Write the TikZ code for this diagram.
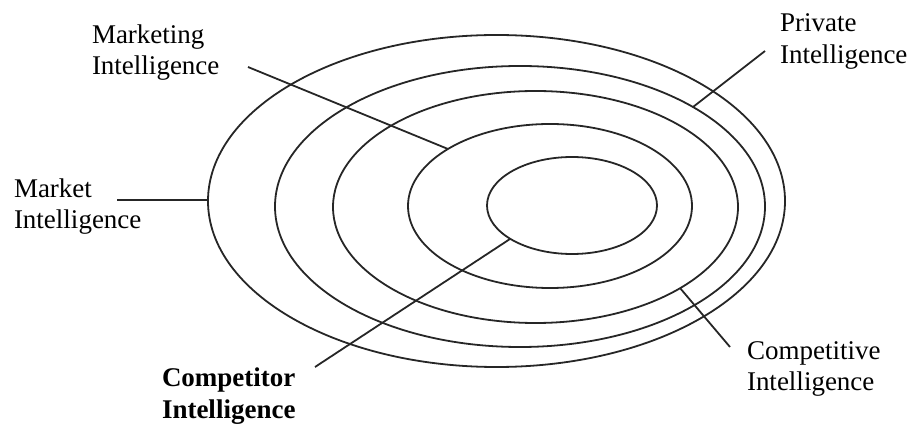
\documentclass[tikz,border=0pt]{standalone}
\usepackage{fontspec}
\setmainfont{Liberation Serif}
\begin{document}
\begin{tikzpicture}[x=1pt,y=-1pt,
  ring/.style={draw=black!85,line width=1.8pt},
  leader/.style={draw=black!85,line width=1.8pt},
  lbl/.style={inner sep=0pt,outer sep=0pt,align=left,anchor=base west,
    font=\fontsize{27}{31.5}\selectfont}]
\useasboundingbox (0,0) rectangle (913,427);
% rings
\coordinate (c1) at (496.5,201);
\coordinate (c2) at (520,206.5);
\coordinate (c3) at (535.5,207);
\coordinate (c4) at (550,206);
\coordinate (c5) at (572,205.5);
\draw[ring] (c1) ellipse [x radius=288.5, y radius=166];
\draw[ring] (c2) ellipse [x radius=245, y radius=140.5];
\draw[ring] (c3) ellipse [x radius=202.5, y radius=116];
\draw[ring] (c4) ellipse [x radius=142, y radius=82];
\draw[ring] (c5) ellipse [x radius=85, y radius=48.5];
% labels (anchor = baseline of last line)
\node[lbl] (marketing) at (92,75) {Marketing\\Intelligence};
\node[lbl] (market) at (14,229) {Market\\Intelligence};
\node[lbl] (private) at (780,63.5) {Private\\Intelligence};
\node[lbl] (competitive) at (747,391) {Competitive\\Intelligence};
\node[lbl,font=\fontsize{27}{31.5}\selectfont\bfseries] (competitor) at (162,418) {Competitor\\Intelligence};
% leader ends
\coordinate (mkA) at (117,200);
\coordinate (mkB) at (208,200);
\coordinate (mgA) at (248,67);
\coordinate (mgB) at (448,149);
\coordinate (pvA) at (765,51);
\coordinate (pvB) at (693,107);
\coordinate (cvA) at (730,347);
\coordinate (cvB) at (680,288);
\coordinate (ctA) at (315,367);
\coordinate (ctB) at (510,239);
\draw[leader] (mkA) -- (mkB);
\draw[leader] (mgA) -- (mgB);
\draw[leader] (pvA) -- (pvB);
\draw[leader] (cvA) -- (cvB);
\draw[leader] (ctA) -- (ctB);
\end{tikzpicture}
\end{document}
